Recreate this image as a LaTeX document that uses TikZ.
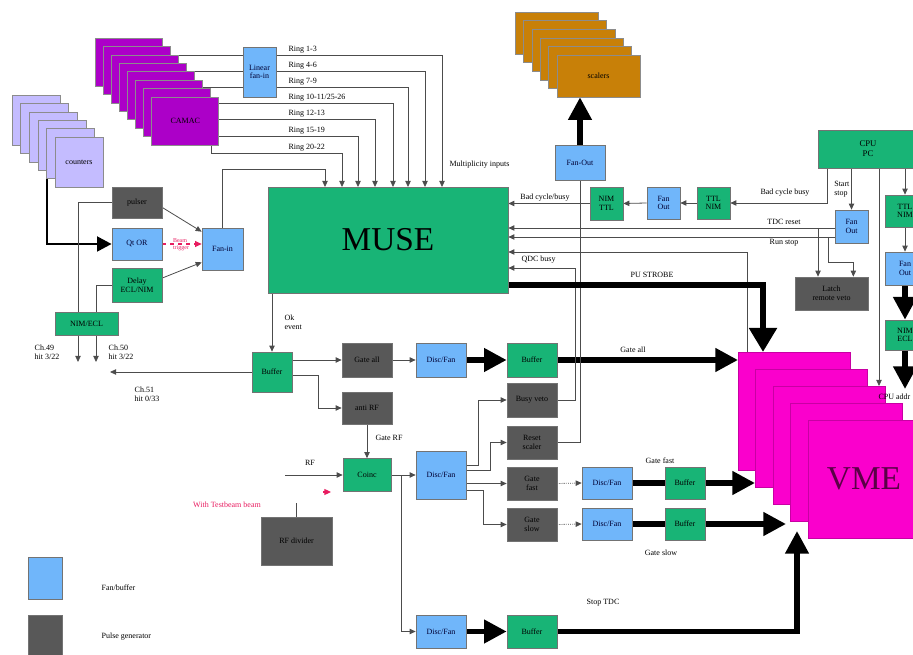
\documentclass[tikz,border=0pt]{standalone}
\usepackage{fontspec}
\setmainfont{Liberation Serif}
\usetikzlibrary{arrows,positioning}
\usetikzlibrary{arrows.meta}
\usetikzlibrary{calc}

\definecolor{musegreen}{RGB}{24,180,118}
\definecolor{fanblue}{RGB}{112,182,250}
\definecolor{pulsegray}{RGB}{88,88,88}
\definecolor{camacpurple}{RGB}{172,0,200}
\definecolor{countlilac}{RGB}{196,188,255}
\definecolor{scalerorange}{RGB}{200,128,8}
\definecolor{vmemagenta}{RGB}{250,0,204}
\definecolor{vmetext}{RGB}{90,0,70}
\definecolor{notered}{RGB}{232,28,96}

\pgfdeclarelayer{background}
\pgfsetlayers{background,main}

\tikzset{
	boxsize/.style 2 args={minimum width=#1*0.75pt, minimum height=#2*0.75pt},
	base/.style={draw=black!55, line width=0.5pt, inner sep=0pt, align=center, font=\fontsize{6}{6.5}\selectfont},
	fanbox/.style={base, fill=fanblue, text=black!80!blue},
	logicbox/.style={base, fill=musegreen},
	pulsebox/.style={base, fill=pulsegray, text=black},
	camaccard/.style={draw=black!45, line width=0.4pt, fill=camacpurple},
	countcard/.style={draw=black!45, line width=0.4pt, fill=countlilac},
	scalercard/.style={draw=black!45, line width=0.4pt, fill=scalerorange},
	vmecard/.style={draw=vmemagenta!80!black, line width=0.4pt, fill=vmemagenta},
	lbl/.style={font=\fontsize{6}{6.5}\selectfont, inner sep=1pt, align=left},
	redlbl/.style={lbl, text=notered},
	sig/.style={draw=black!70, line width=0.6pt, -{Triangle[length=4.5pt,width=4pt]}},
	wire/.style={draw=black!70, line width=0.6pt},
	redsig/.style={draw=notered, line width=0.8pt, -{Triangle[length=5pt,width=4.5pt]}},
	thinbus/.style={line width=2.2pt, -{Triangle[length=11pt,width=11pt]}},
	bus/.style={line width=4pt, -{Triangle[length=17pt,width=17pt]}},
	busline/.style={line width=4pt},
	strobe/.style={line width=4.8pt, -{Triangle[length=18pt,width=20pt]}}
}

\begin{document}
\begin{tikzpicture}[x=0.75pt,y=0.75pt,yscale=-1,xscale=1]
	\useasboundingbox (0,0) rectangle (913,655);
	
	%Shape: card stacks
	\foreach \i in {0,...,6}
		\draw[camaccard] ({95+8.1*\i},{38+8.4*\i}) rectangle ++(67,48);
	\node[camaccard, boxsize={67}{48}, font=\fontsize{6}{6.5}\selectfont] (camac) at (185.2,120.8) {CAMAC};
	\foreach \i in {0,...,4}
		\draw[countcard] ({12+8.6*\i},{95+8.4*\i}) rectangle ++(48,50);
	\node[countcard, boxsize={48}{50}, font=\fontsize{6}{6.5}\selectfont] (counters) at (79,162) {counters};
	\foreach \i in {0,...,4}
		\draw[scalercard] ({515+8.4*\i},{12+8.6*\i}) rectangle ++(83,42);
	\node[scalercard, boxsize={83}{42}, font=\fontsize{6}{6.5}\selectfont] (scalers) at (598.5,76) {scalers};
	\foreach \i in {0,...,3}
		\draw[vmecard] ({738+17.5*\i},{352+17*\i}) rectangle ++(112,118);
	\node[vmecard, boxsize={112}{118}, text=vmetext, font=\fontsize{25}{25}\selectfont] (vme) at (864,479) {VME};
	
	%Shape: MUSE
	\node[logicbox, boxsize={240}{106}, font=\fontsize{25}{25}\selectfont] (muse) at (388,240) {MUSE};
	
	% left side
	\node[fanbox, boxsize={33}{50}] (linfan) at (259.5,72) {Linear\\fan-in};
	\node[pulsebox, boxsize={50}{31}] (pulser) at (137,202.5) {pulser};
	\node[fanbox, boxsize={50}{32}] (qtor) at (137,244) {Qt OR};
	\node[logicbox, boxsize={50}{34}] (delay) at (137,285) {Delay\\ECL/NIM};
	\node[logicbox, boxsize={63}{23}] (nimecl) at (86.5,323.5) {NIM/ECL};
	\node[fanbox, boxsize={41}{42}] (fanin) at (222.5,249) {Fan-in};
	
	% gate chains
	\node[logicbox, boxsize={40}{40}] (okbuf) at (272,372) {Buffer};
	\node[pulsebox, boxsize={50}{34}] (gateall) at (367,360) {Gate all};
	\node[pulsebox, boxsize={50}{32}] (antirf) at (367,408) {anti RF};
	\node[fanbox, boxsize={50}{34}] (fanall) at (441,360) {Disc/Fan};
	\node[logicbox, boxsize={50}{34}] (bufall) at (532,360) {Buffer};
	\node[logicbox, boxsize={48}{33}] (rfcoinc) at (367,475) {Coinc};
	\node[fanbox, boxsize={50}{48}] (fanrf) at (441,475) {Disc/Fan};
	\node[pulsebox, boxsize={50}{34}] (busy) at (532,400) {Busy veto};
	\node[pulsebox, boxsize={50}{33}] (reset) at (532,442.5) {Reset\\scaler};
	\node[pulsebox, boxsize={50}{33}] (gfast) at (532,483.5) {Gate\\fast};
	\node[pulsebox, boxsize={50}{33}] (gslow) at (532,524.5) {Gate\\slow};
	\node[fanbox, boxsize={50}{32}] (fanfast) at (607,483) {Disc/Fan};
	\node[fanbox, boxsize={50}{32}] (fanslow) at (607,524) {Disc/Fan};
	\node[logicbox, boxsize={40}{32}] (buffast) at (685,483) {Buffer};
	\node[logicbox, boxsize={40}{32}] (bufslow) at (685,524) {Buffer};
	\node[fanbox, boxsize={50}{33}] (fantdc) at (441,631.5) {Disc/Fan};
	\node[logicbox, boxsize={50}{33}] (buftdc) at (532,631.5) {Buffer};
	\node[pulsebox, boxsize={71}{48}] (rfdiv) at (296.5,541) {RF divider};
	
	% top right
	\node[fanbox, boxsize={50}{35}] (fanscal) at (580,162.5) {Fan-Out};
	\node[logicbox, boxsize={33}{33}] (nimttl) at (606.5,203.5) {NIM\\TTL};
	\node[fanbox, boxsize={33}{32}] (fanbad) at (663.5,203) {Fan\\Out};
	\node[logicbox, boxsize={33}{32}] (ttlnim) at (713.5,203) {TTL\\NIM};
	\node[logicbox, boxsize={100}{38}, font=\fontsize{6.5}{7.5}\selectfont] (cpu) at (868,149) {CPU\\PC};
	\node[fanbox, boxsize={33}{33}] (fanrun) at (851.5,226.5) {Fan\\Out};
	\node[pulsebox, boxsize={73}{33}] (latch) at (831.5,293.5) {Latch\\remote veto};
	\node[logicbox, boxsize={40}{32}] (ttlnimb) at (905,211) {TTL\\NIM};
	\node[fanbox, boxsize={40}{33}] (fanvme) at (905,268.5) {Fan\\Out};
	\node[logicbox, boxsize={40}{30}] (nimeclb) at (905,335) {NIM\\ECL};
	
	% legend
	\node[fanbox, boxsize={34}{42}] (legfan) at (45,578) {};
	\node[pulsebox, boxsize={34}{45}] (legpulse) at (45,637.5) {};
	
	% free ends
	\foreach \x [count=\k] in {442,425,408,393,375,358,342,325}
		\coordinate (mul\k) at (\x,187);
	\coordinate (cntout) at (47,175);
	\coordinate (ch49) at (78,362);
	\coordinate (ch50) at (96,362);
	\coordinate (ch51) at (110,372);
	\coordinate (rfin) at (285,475);
	\coordinate (rftip) at (331,492);
	\coordinate (gatein) at (738,360);
	\coordinate (fastin) at (755,483);
	\coordinate (slowin) at (786,524);
	\coordinate (tdcin) at (797,531);
	\coordinate (strobein) at (763,352);
	\coordinate (qdcbr) at (747,365);
	\coordinate (tdcbr) at (818,228);
	\coordinate (runbr) at (828,237);
	\coordinate (cpuvme) at (879,386);
	\coordinate (vmebus) at (905,389);
	
	\begin{pgfonlayer}{background}
		% multiplicity inputs
		\draw[wire] (linfan.west |- 0,55) -- ++(-70,0);
		\draw[wire] (linfan.west |- 0,71) -- ++(-70,0);
		\draw[wire] (linfan.west |- 0,87) -- ++(-70,0);
		\draw[sig] (linfan.east |- 0,55) -| (mul1);
		\draw[sig] (linfan.east |- 0,71) -| (mul2);
		\draw[sig] (linfan.east |- 0,87) -| (mul3);
		\draw[sig] (camac.east |- 0,103) -| (mul4);
		\draw[sig] (camac.east |- 0,119) -| (mul5);
		\draw[sig] (camac.east |- 0,136) -| (mul6);
		\draw[sig] ($(camac.south east)+(-8,0)$) -- ++(0,8) -| (mul7);
		\draw[sig] (fanin.north) -- ++(0,-58) -| (mul8);
		
		% trigger side
		\draw[thinbus] (cntout) |- (qtor.west);
		\draw[sig] (pulser.west) -| (ch49);
		\draw[sig] (delay.west) -| (ch50);
		\draw[sig] ($(pulser.east)+(0,5)$) -- ($(fanin.north west)+(0,4)$);
		\draw[sig] ($(delay.east)+(0,-7)$) -- ($(fanin.south west)+(0,-8)$);
		\draw[redsig, dashed] (qtor.east) -- (fanin.west |- qtor.east);
		
		% MUSE outputs
		\draw[sig] (okbuf.north |- muse.south) -- (okbuf.north);
		\draw[sig] (okbuf.west) -- (ch51);
		\draw[sig] (okbuf.east |- gateall) -- (gateall.west);
		\draw[sig] ($(okbuf.east)+(0,3)$) -- ++(26,0) |- (antirf.west);
		\draw[sig] (gateall.east) -- (fanall.west);
		\draw[bus] (fanall.east) -- (bufall.west);
		\draw[bus] (bufall.east) -- (gatein);
		\draw[sig] (antirf.south) -- (rfcoinc.north);
		\draw[sig] (rfin) -- (rfcoinc.west);
		\draw[sig] (rfcoinc.east) -- (fanrf.west);
		\draw[sig] (rfcoinc.east) -- ++(10,0) |- (fantdc.west);
		\draw[wire] (rfdiv.north) -- ++(0,-14);
		\draw[redsig] ($(rftip)+(-8,0)$) -- (rftip);
		
		% fan-out to gates
		\draw[sig] ($(fanrf.east)+(0,-10)$) -- ++(12,0) |- (busy.west);
		\draw[sig] ($(fanrf.east)+(0,-5)$) -- ++(24,0) |- (reset.west);
		\draw[sig] (fanrf.east |- gfast) -- (gfast.west);
		\draw[sig] ($(fanrf.east)+(0,15)$) -- ++(17,0) |- (gslow.west);
		\draw[sig, densely dotted] (gfast.east) -- (fanfast.west);
		\draw[sig, densely dotted] (gslow.east) -- (fanslow.west);
		\draw[busline] (fanfast.east) -- (buffast.west);
		\draw[busline] (fanslow.east) -- (bufslow.west);
		\draw[bus] (buffast.east) -- (fastin);
		\draw[bus] (bufslow.east) -- (slowin);
		\draw[bus] (fantdc.east) -- (buftdc.west);
		\draw[bus] (buftdc.east) -| (tdcin);
		
		% back into MUSE
		\draw[sig] (busy.east) -- ++(18,0) |- (muse.east |- 0,268);
		\draw[wire] (fanscal.south) |- (reset.east);
		\draw[bus] (fanscal.north) -- (fanscal.north |- scalers.south);
		\draw[sig] (qdcbr) |- (muse.east |- 0,252);
		\draw[strobe] (muse.east |- 0,285) -| (strobein);
		\draw[sig] (nimttl.west) -- (muse.east |- nimttl.west);
		\draw[sig] (fanbad.west) -- (nimttl.east);
		\draw[sig] (ttlnim.west) -- (fanbad.east);
		\draw[sig] ($(cpu.south west)+(10,0)$) |- (ttlnim.east);
		\draw[sig] (fanrun.north |- cpu.south) -- (fanrun.north);
		\draw[sig] (fanrun.west |- 0,228) -- (muse.east |- 0,228);
		\draw[sig] (fanrun.west |- 0,237) -- (muse.east |- 0,237);
		\draw[sig] (tdcbr) -- (tdcbr |- latch.north);
		\draw[sig] (runbr) -- ++(0,25) -| ($(latch.north east)+(-15,0)$);
		
		% CPU to VME
		\draw[sig] (ttlnimb.north |- cpu.south) -- (ttlnimb.north);
		\draw[sig] (ttlnimb.south) -- (fanvme.north);
		\draw[bus] (fanvme.south) -- (nimeclb.north);
		\draw[bus] (nimeclb.south) -- (vmebus);
		\draw[sig] (cpu.south -| cpuvme) -- (cpuvme);
	\end{pgfonlayer}
	
	% Text Node
	\node[lbl, anchor=south west] at (287,55) {Ring 1-3};
	\node[lbl, anchor=south west] at (287,71) {Ring 4-6};
	\node[lbl, anchor=south west] at (287,87) {Ring 7-9};
	\node[lbl, anchor=south west] at (287,103) {Ring 10-11/25-26};
	\node[lbl, anchor=south west] at (287,119) {Ring 12-13};
	\node[lbl, anchor=south west] at (287,136) {Ring 15-19};
	\node[lbl, anchor=south west] at (287,153) {Ring 20-22};
	\node[lbl, anchor=west] at (448,165) {Multiplicity inputs};
	% Text Node
	\node[redlbl, font=\fontsize{4.5}{5}\selectfont] at (181,245) {Beam\\trigger};
	\node[lbl] at (47,352) {Ch.49\\hit 3/22};
	\node[lbl] at (121,352) {Ch.50\\hit 3/22};
	\node[lbl] at (147,394) {Ch.51\\hit 0/33};
	\node[lbl, anchor=west] at (283,322) {Ok\\event};
	\node[lbl, anchor=west] at (374,438) {Gate RF};
	\node[lbl] at (310,463) {RF};
	\node[redlbl] at (227,505) {With Testbeam beam};
	% Text Node
	\node[lbl] at (633,350) {Gate all};
	\node[lbl] at (660,461) {Gate fast};
	\node[lbl] at (661,553) {Gate slow};
	\node[lbl] at (603,603) {Stop TDC};
	\node[lbl] at (652,275) {PU STROBE};
	\node[lbl, anchor=north west] at (520,254) {QDC busy};
	\node[lbl] at (545,198) {Bad cycle/busy};
	\node[lbl] at (785,193) {Bad cycle busy};
	\node[lbl, anchor=east] at (851,189) {Start\\stop};
	\node[lbl] at (784,222) {TDC reset};
	\node[lbl] at (784,243) {Run stop};
	\node[lbl, anchor=west] at (877,397) {CPU addr};
	% Text Node
	\node[lbl, anchor=west] at (100,588) {Fan/buffer};
	\node[lbl, anchor=west] at (100,637) {Pulse generator};
	
\end{tikzpicture}
\end{document}
